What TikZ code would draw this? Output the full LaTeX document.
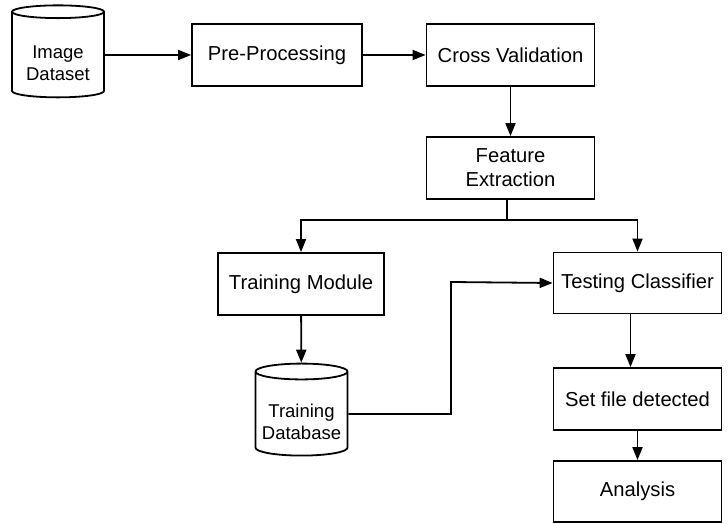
\documentclass[tikz,border=0pt]{standalone}
\usepackage{fontspec}
\setmainfont{Liberation Sans}
\usetikzlibrary{shapes.geometric,arrows.meta}
\tikzset{
  stepbox/.style={draw, line width=1.8pt, align=center, inner sep=0pt,
    minimum width=168pt, minimum height=62pt},
  store/.style={draw, line width=1.8pt, align=center, shape=cylinder,
    shape border rotate=90, aspect=0.2, inner sep=0pt,
    minimum width=92pt, minimum height=92pt,
    font=\fontsize{18.5}{22}\selectfont},
  flow/.style={line width=1.8pt, -{Triangle[length=13pt,width=10pt]}}
}
\newcommand{\toppad}{\rule{0pt}{30pt}}
\begin{document}
\begin{tikzpicture}[x=1pt,y=-1pt,font=\fontsize{20.2}{24}\selectfont]
      \useasboundingbox (0,0) rectangle (728,524);
      \draw
        (58,55) node[store] (imgdata){\toppad Image\\Dataset}
        (277,55) node[stepbox,minimum width=170pt] (prep){Pre-Processing}
        (510.5,55) node[stepbox] (crossval){Cross Validation}
        (510.5,168) node[stepbox] (feature){Feature\\Extraction}
        (301,284) node[stepbox,minimum width=166pt] (trainmod){Training Module}
        (637.5,283) node[stepbox,minimum height=61pt] (testclf){Testing Classifier}
        (301.5,414) node[store] (traindb){\toppad Training\\Database}
        (637.5,399) node[stepbox] (setfile){Set file detected}
        (637.5,491.5) node[stepbox,minimum height=61pt] (analysis){Analysis};
      \coordinate (split) at (507,220);
      \coordinate (bend) at (451,282);
      \begin{scope}[flow]
        \draw (imgdata) to (prep);
        \draw (prep) to (crossval);
        \draw (crossval) to (feature);
        \draw (feature.south -| split) -- (split) -| (trainmod.north);
        \draw (split) -| (testclf.north);
        \draw (trainmod) to (traindb);
        \draw (traindb.east) -| (bend) -- (testclf.west);
        \draw ([xshift=-7pt]testclf.south) -- ([xshift=-7pt]setfile.north);
        \draw (setfile) to (analysis);
      \end{scope}
    \end{tikzpicture}
\end{document}
